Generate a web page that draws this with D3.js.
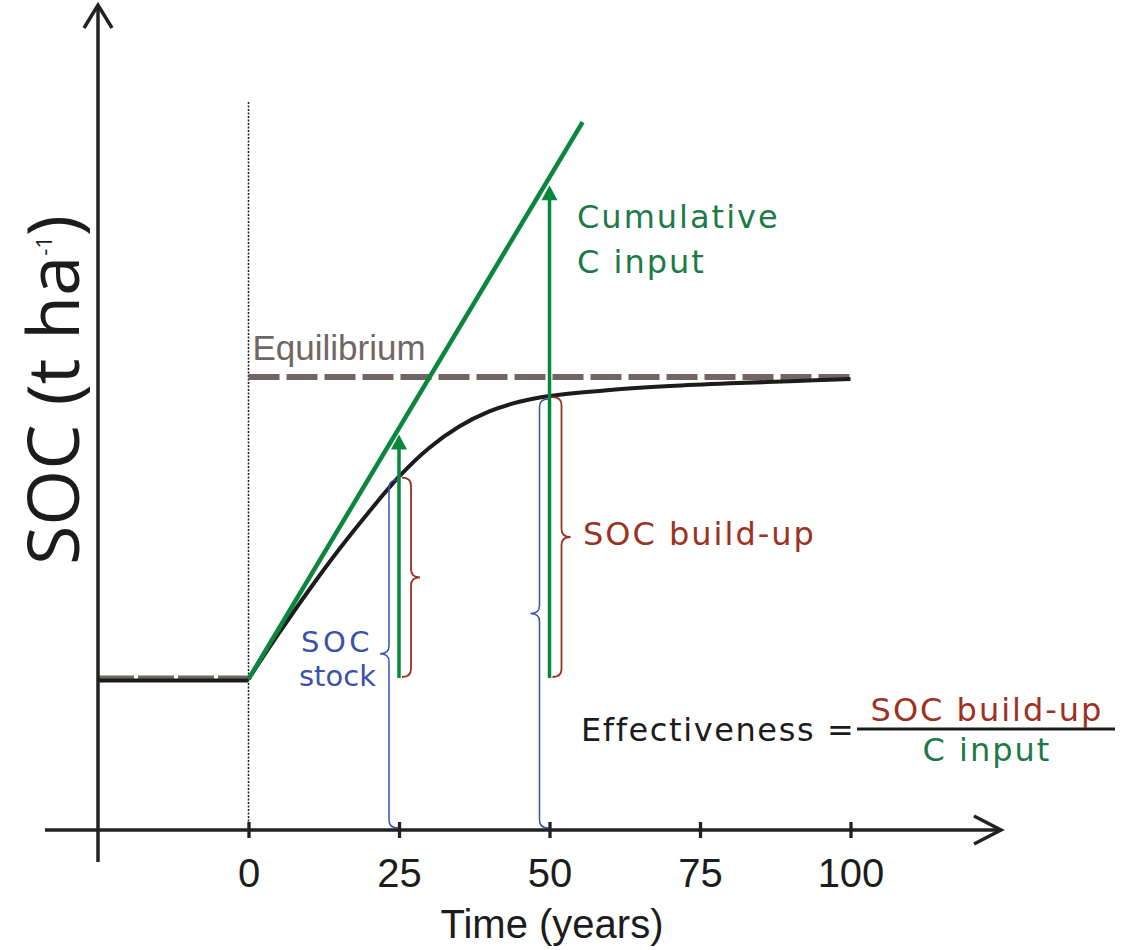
<!DOCTYPE html>
<html>
<head>
<meta charset="utf-8">
<script src="https://cdn.jsdelivr.net/npm/d3@7"></script>
<style>
  body { margin: 0; background: #fff; }
  svg text { font-family: "DejaVu Sans", Verdana, sans-serif; }
</style>
</head>
<body>
<script>
// Values (SOC in arbitrary t/ha units, time in years)
const years = [0, 5, 10, 15, 20, 25, 30, 35, 40, 45, 50, 60, 70, 80, 90, 100];
const socStock = [50, 65, 79.3, 92.8, 105.3, 117, 126.5, 133.6, 138.6, 141.8, 143.7, 145.7, 147, 147.9, 148.6, 149.3];
const preYears = [-25, 0];
const baseline = 50;
const equilibrium = 150;
const inputYears = [0, 55.5];
const inputValues = [50, 234.4];
const arrowYears = [25, 50];
const arrowTips = [131, 213.5];
const tickYears = [0, 25, 50, 75, 100];

const colors = {
  green: "#0a873c",
  greenText: "#1d7a47",
  red: "#9b3223",
  blue: "#3a52a8",
  gray: "#716663",
  black: "#1c1c1c"
};

const W = 1127, H = 950;
const svg = d3.select("body").append("svg")
  .attr("width", W)
  .attr("height", H);

// Scales
const x = d3.scaleLinear().domain([0, 100]).range([248.5, 850.5]);
const y = d3.scaleLinear().domain([0, 150]).range([830, 377]);

const curveData = years.map((t, i) => ({ t, v: socStock[i] }));
const socAt = t => socStock[years.indexOf(t)];

const line = d3.line().x(d => x(d.t)).y(d => y(d.v));

// dotted line at time 0
svg.append("line")
  .attr("x1", x(0)).attr("x2", x(0))
  .attr("y1", 102).attr("y2", y(0))
  .attr("stroke", colors.black)
  .attr("stroke-width", 1.5)
  .attr("stroke-dasharray", "2,1.5");

// equilibrium
svg.append("path")
  .datum([{ t: 0, v: equilibrium }, { t: 100, v: equilibrium }])
  .attr("d", line)
  .attr("fill", "none")
  .attr("stroke", colors.gray)
  .attr("stroke-width", 6)
  .attr("stroke-dasharray", "31,7");

svg.append("text")
  .attr("x", x(0) + 4).attr("y", 360)
  .style("font-family", "'Liberation Sans', Arial, sans-serif")
  .attr("font-size", 35)
  .attr("fill", colors.gray)
  .text("Equilibrium");

// initial steady state (gray dashes mostly hidden under the black line)
const pre = preYears.map(t => ({ t, v: baseline }));
svg.append("path")
  .datum(pre)
  .attr("d", line)
  .attr("transform", "translate(0,-1)")
  .attr("fill", "none")
  .attr("stroke", colors.gray)
  .attr("stroke-width", 5)
  .attr("stroke-dasharray", "36,4");
svg.append("path")
  .datum(pre)
  .attr("d", line)
  .attr("transform", "translate(0,1.5)")
  .attr("fill", "none")
  .attr("stroke", colors.black)
  .attr("stroke-width", 4);

// SOC curve
svg.append("path")
  .datum(curveData)
  .attr("d", d3.line().x(d => x(d.t)).y(d => y(d.v)).curve(d3.curveCatmullRom.alpha(0.5)))
  .attr("fill", "none")
  .attr("stroke", colors.black)
  .attr("stroke-width", 4);

// cumulative C input
svg.append("path")
  .datum(inputYears.map((t, i) => ({ t, v: inputValues[i] })))
  .attr("d", line)
  .attr("fill", "none")
  .attr("stroke", colors.green)
  .attr("stroke-width", 4.5);

// braces
function bracePath(x0, y0, y1, dir) {
  const xs = x0 + dir * 9, xp = x0 + dir * 18, ym = (y0 + y1) / 2, r = 8;
  return `M${x0},${y0} Q${xs},${y0} ${xs},${y0 + r} L${xs},${ym - r} ` +
    `Q${xs},${ym} ${xp},${ym} Q${xs},${ym} ${xs},${ym + r} ` +
    `L${xs},${y1 - r} Q${xs},${y1} ${x0},${y1}`;
}

arrowYears.forEach(t => {
  const xt = x(t);
  // SOC stock (blue, left)
  svg.append("path")
    .attr("d", bracePath(xt - 1, y(socAt(t)) + 3, y(0) - 2, -1))
    .attr("fill", "none")
    .attr("stroke", colors.blue)
    .attr("stroke-width", 1.5);
  // SOC build-up (red, right)
  svg.append("path")
    .attr("d", bracePath(xt + 3, y(socAt(t)) + 1, y(baseline) - 2, 1))
    .attr("fill", "none")
    .attr("stroke", colors.red)
    .attr("stroke-width", 1.8);
});

// green arrows
arrowYears.forEach((t, i) => {
  const xt = x(t), tip = y(arrowTips[i]);
  svg.append("line")
    .attr("x1", xt).attr("x2", xt)
    .attr("y1", y(baseline) - 1).attr("y2", tip + 10)
    .attr("stroke", colors.green)
    .attr("stroke-width", 3.5);
  svg.append("path")
    .attr("d", `M${xt},${tip} L${xt + 8},${tip + 15} L${xt - 8},${tip + 15} Z`)
    .attr("fill", colors.green);
});

// axes
const axisColor = "#222";
svg.append("line")
  .attr("x1", 45).attr("x2", 1001)
  .attr("y1", y(0)).attr("y2", y(0))
  .attr("stroke", axisColor).attr("stroke-width", 3.5);
svg.append("path")
  .attr("d", `M974,${y(0) - 14} L1001,${y(0)} L974,${y(0) + 14}`)
  .attr("fill", "none").attr("stroke", axisColor).attr("stroke-width", 3.5);

const yAxisX = x(-25);
svg.append("line")
  .attr("x1", yAxisX).attr("x2", yAxisX)
  .attr("y1", 862).attr("y2", 6)
  .attr("stroke", axisColor).attr("stroke-width", 3.5);
svg.append("path")
  .attr("d", `M${yAxisX - 14},28 L${yAxisX},5 L${yAxisX + 14},28`)
  .attr("fill", "none").attr("stroke", axisColor).attr("stroke-width", 3.5);

const xaxis = d3.axisBottom(x).tickValues(tickYears).tickSize(16).tickFormat(d3.format("d"));
const g_xaxis = svg.append("g")
  .attr("transform", `translate(0,${y(0) - 8})`)
  .call(xaxis);
g_xaxis.select(".domain").remove();
g_xaxis.selectAll(".tick line").attr("stroke", axisColor).attr("stroke-width", 3.3);
g_xaxis.selectAll(".tick text")
  .attr("y", 65).attr("dy", 0)
  .attr("fill", colors.black)
  .style("font-family", "'Liberation Sans', Arial, sans-serif")
  .attr("font-size", 40);

svg.append("text")
  .attr("x", 552).attr("y", 938)
  .attr("text-anchor", "middle")
  .style("font-family", "'Liberation Sans', Arial, sans-serif")
  .attr("font-size", 40)
  .attr("fill", colors.black)
  .text("Time (years)");

// y label
const ylab = svg.append("text")
  .attr("transform", "translate(79,390) rotate(-90)")
  .attr("text-anchor", "middle")
  .style("font-family", "'Open Sans', sans-serif")
  .attr("font-size", 72)
  .attr("fill", colors.black);
ylab.append("tspan").text("SOC (t ha");
ylab.append("tspan").attr("font-size", 22).attr("dy", -27).text("-1");
ylab.append("tspan").attr("dy", 27).text(")");

// annotations
const label = (xp, yp, txt, color, opts = {}) => svg.append("text")
  .attr("x", xp).attr("y", yp)
  .attr("font-size", opts.size || 32)
  .attr("letter-spacing", opts.spacing !== undefined ? opts.spacing : 2)
  .attr("text-anchor", opts.anchor || "start")
  .attr("fill", color)
  .text(txt);

label(577, 228, "Cumulative", colors.greenText);
label(577, 273, "C input", colors.greenText);
label(583, 545, "SOC build-up", colors.red);

// two-line "SOC stock" label
label(301, 652, "SOC", colors.blue, { size: 29, spacing: 3.5 });
label(299, 686, "stock", colors.blue, { size: 29, spacing: 0 });

label(581, 741, "Effectiveness =", colors.black, { spacing: 1.6 });
svg.append("line")
  .attr("x1", 857).attr("x2", 1115)
  .attr("y1", 729).attr("y2", 729)
  .attr("stroke", colors.black).attr("stroke-width", 3);
label(987, 721, "SOC build-up", colors.red, { anchor: "middle" });
label(987, 761, "C input", colors.greenText, { anchor: "middle" });
</script>
</body>
</html>
